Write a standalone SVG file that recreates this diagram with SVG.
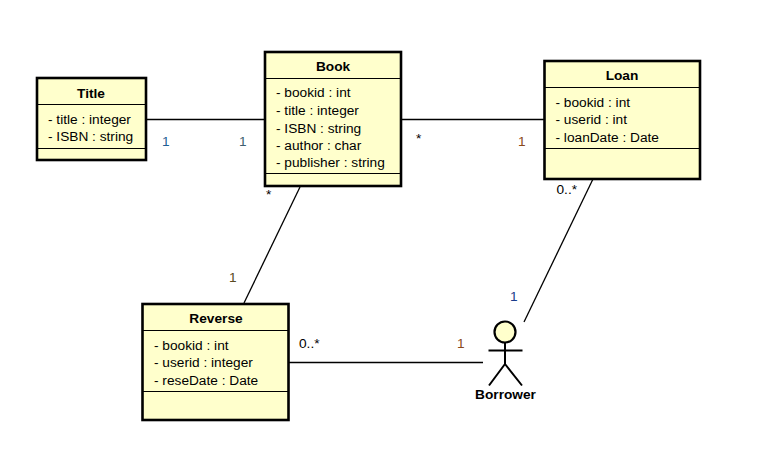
<svg xmlns="http://www.w3.org/2000/svg" width="759" height="463" viewBox="0 0 759 463">
<style>
text{font-family:"Liberation Sans",Arial,sans-serif;font-size:13.7px;fill:#000}
.n{font-weight:bold;text-anchor:middle}
.box{fill:#ffffcc;stroke:#000;stroke-width:2.6}
.d{stroke:#000;stroke-width:1;fill:none}
.c{stroke:#000;stroke-width:1.3;fill:none}
.s{stroke:#000;stroke-width:2;fill:none}
.bl{fill:#1f5f96}.gb{fill:#3f5f70}.br{fill:#8a4a1c}.dk{fill:#5a4a20}.nv{fill:#1a3c8c}
</style>
<rect width="759" height="463" fill="#fff"/>
<g id="connectors">
<line class="c" x1="147" y1="119.500" x2="264" y2="119.500"/>
<line class="c" x1="402" y1="119.500" x2="544" y2="119.500"/>
<line class="c" x1="300" y1="187" x2="244" y2="303"/>
<line class="c" x1="593" y1="179" x2="524" y2="322"/>
<line class="c" x1="289" y1="362.500" x2="483" y2="362.500"/>
</g>
<g id="title"><rect class="box" x="37" y="78" width="109" height="82"/><line class="d" x1="37" y1="104.500" x2="146" y2="104.500"/><line class="d" x1="37" y1="148.500" x2="146" y2="148.500"/>
<text class="n" x="91" y="97.500">Title</text><text x="48" y="124">- title : integer</text><text x="48" y="141">- ISBN : string</text></g>
<g id="book"><rect class="box" x="265" y="52" width="136" height="134"/><line class="d" x1="265" y1="78.500" x2="401" y2="78.500"/><line class="d" x1="265" y1="173.500" x2="401" y2="173.500"/>
<text class="n" x="333" y="70.500">Book</text><text x="276" y="97">- bookid : int</text><text x="276" y="115">- title : integer</text><text x="276" y="133">- ISBN : string</text><text x="276" y="150">- author : char</text><text x="276" y="167">- publisher : string</text></g>
<g id="loan"><rect class="box" x="544.500" y="61" width="155.500" height="118"/><line class="d" x1="545" y1="87.500" x2="700" y2="87.500"/><line class="d" x1="545" y1="148.500" x2="700" y2="148.500"/>
<text class="n" x="622" y="80">Loan</text><text x="555.500" y="107">- bookid : int</text><text x="555.500" y="124">- userid : int</text><text x="555.500" y="142">- loanDate : Date</text></g>
<g id="reverse"><rect class="box" x="142.500" y="304" width="146" height="116"/><line class="d" x1="143" y1="330.500" x2="288" y2="330.500"/><line class="d" x1="143" y1="391.500" x2="288" y2="391.500"/>
<text class="n" x="216" y="323">Reverse</text><text x="154" y="350">- bookid : int</text><text x="154" y="367">- userid : integer</text><text x="154" y="385">- reseDate : Date</text></g>
<g id="borrower"><circle cx="505" cy="332" r="10.500" fill="#ffffcc" stroke="#000" stroke-width="2.200"/><path class="s" d="M505 342.500V364M488.500 350.500H522.500M505 364L489 385.500M505 364L522 385.500"/>
<text class="n" x="505.500" y="399">Borrower</text></g>
<g id="multiplicities">
<text class="bl" x="162" y="146">1</text><text class="gb" x="239" y="146">1</text>
<text x="416" y="143">*</text><text class="br" x="518" y="146">1</text>
<text x="266" y="199">*</text><text class="dk" x="229" y="282">1</text>
<text x="556.500" y="194">0..*</text><text class="nv" x="510" y="301">1</text>
<text x="299" y="348">0..*</text><text class="br" x="457" y="348">1</text>
</g>
</svg>
